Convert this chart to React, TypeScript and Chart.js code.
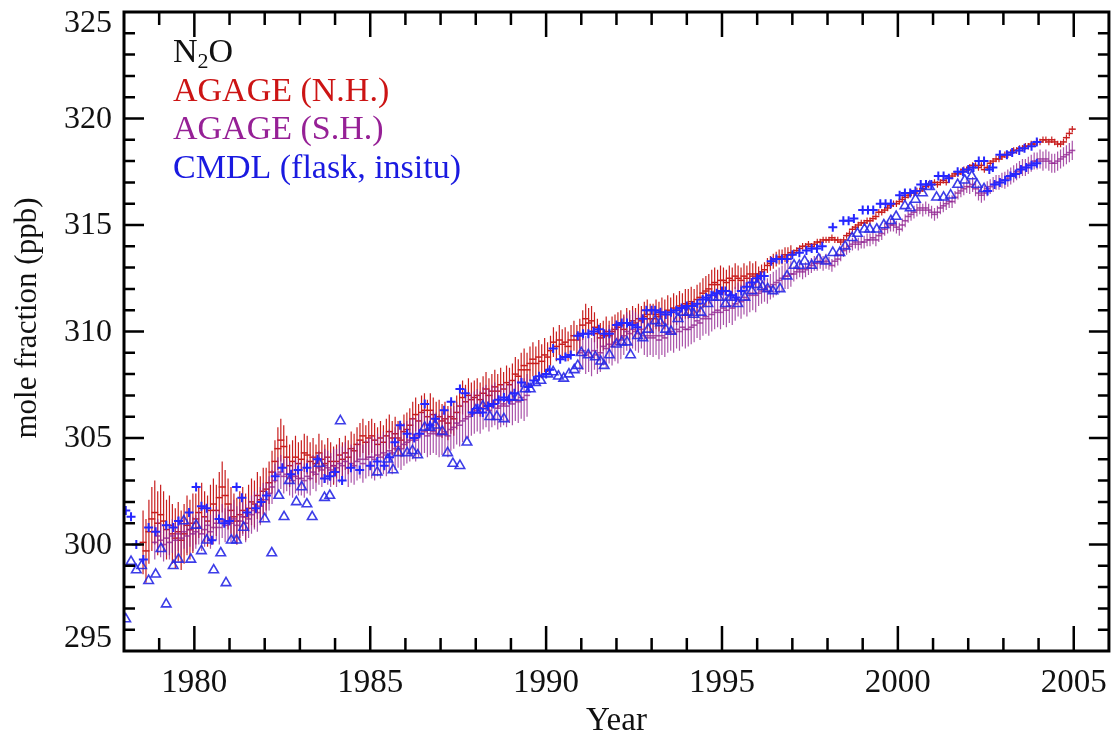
import React, { useEffect, useRef } from "react";
import { Chart, registerables } from "chart.js";
Chart.register(...registerables);

const FONT = '"Liberation Serif", "DejaVu Serif", serif';

const X_MIN = 1978;
const X_MAX = 2006;
const Y_MIN = 295;
const Y_MAX = 325;
const X_TICKS = [1980, 1985, 1990, 1995, 2000, 2005];
const Y_TICKS = [295, 300, 305, 310, 315, 320, 325];

// AGAGE N.H. monthly means, July 1978 .. Dec 2004
const NH_START = 1978 + 6 / 12;
const NH_VALUES = [
  300.1, 299.7, 300.6, 301.2, 301.5, 301.0,
  301.4, 301.1, 300.7, 300.9, 300.5, 300.3, 300.6, 300.2, 300.5, 300.9, 300.7, 301.0,
  301.2, 301.5, 301.7, 301.3, 301.1, 301.6, 301.9, 301.6, 302.2, 302.7, 302.3, 301.9,
  301.6, 301.3, 301.1, 301.4, 301.6, 301.3, 301.7, 302.0, 301.9, 302.3, 302.1, 302.5,
  302.6, 302.9, 303.4, 303.9, 304.5, 304.9, 304.6, 304.1, 303.7, 303.9, 304.1, 303.8,
  304.0, 304.3, 304.2, 303.9, 304.1, 303.8, 304.3, 304.0, 303.8, 304.1, 303.9, 303.7,
  303.9, 304.2, 304.0, 304.3, 304.1, 304.5, 304.4, 304.7, 304.9, 305.1, 304.8, 305.0,
  305.1, 304.9, 304.7, 305.0, 304.8, 305.1, 305.3, 305.0, 305.2, 305.0, 304.9, 305.3,
  305.4, 305.6, 305.9, 306.1, 305.8, 306.2, 306.3, 306.0, 306.3, 306.1, 305.9, 306.0,
  305.8, 305.9, 305.7, 306.0, 305.9, 306.2, 306.5, 306.9, 306.7, 307.0, 306.8, 306.9,
  307.0, 306.8, 307.1, 307.3, 307.0, 307.2, 307.4, 307.2, 307.5, 307.3, 307.6, 307.5,
  307.7, 308.0, 307.9, 308.2, 308.4, 308.2, 308.5, 308.7, 308.5, 308.8, 308.6, 308.9,
  308.8, 309.1, 309.5, 309.3, 309.6, 309.4, 309.5, 309.3, 309.6, 309.8, 309.6, 309.9,
  310.3, 310.6, 310.4, 310.5, 310.2, 309.9, 309.7, 309.8, 310.0, 309.8, 310.0, 310.1,
  310.2, 310.3, 310.1, 310.4, 310.3, 310.5, 310.4, 310.6, 310.5, 310.7, 310.8, 310.6,
  310.6, 310.8, 310.7, 310.9, 310.8, 311.0, 310.9, 311.1, 311.0, 311.2, 311.1, 311.3,
  311.3, 311.4, 311.3, 311.5, 311.6, 311.8, 311.9, 312.0, 312.2, 312.3, 312.2, 312.4,
  312.4, 312.3, 312.5, 312.4, 312.6, 312.5, 312.4, 312.6, 312.5, 312.7, 312.6, 312.7,
  312.7, 312.8, 312.9, 313.1, 313.2, 313.3, 313.4, 313.5, 313.5, 313.6, 313.6, 313.7,
  313.7, 313.8, 313.9, 314.0, 314.0, 314.1, 314.0, 314.1, 314.2, 314.2, 314.3, 314.3,
  314.3, 314.4, 314.3, 314.3, 314.2, 314.3, 314.5, 314.6, 314.8, 314.9, 315.0, 315.1,
  315.1, 315.2, 315.2, 315.3, 315.4, 315.6, 315.6, 315.7, 315.8, 315.9, 316.0, 316.0,
  316.1, 316.2, 316.3, 316.4, 316.5, 316.5, 316.6, 316.6, 316.7, 316.8, 316.9, 316.9,
  317.0, 316.9, 317.0, 317.1, 317.0, 317.2, 317.3, 317.4, 317.4, 317.5, 317.6, 317.6,
  317.7, 317.8, 317.8, 317.7, 317.8, 317.6, 317.7, 317.9, 318.0, 318.1, 318.1, 318.2,
  318.3, 318.3, 318.4, 318.5, 318.5, 318.6, 318.6, 318.7, 318.7, 318.8, 318.8, 318.9,
  318.9, 319.0, 319.0, 318.9, 319.0, 318.9, 318.8, 318.8, 318.9, 319.1, 319.3, 319.5,
];
// half-length of the N.H. error bars, by year 1978..2004
const NH_ERR = [
  1.5, 1.4, 1.2, 1.1, 1.0, 0.9, 0.8, 0.8, 0.8, 0.8, 0.8, 0.8, 0.7, 0.7,
  0.7, 0.7, 0.7, 0.6, 0.35, 0.15, 0.15, 0.15, 0.15, 0.15, 0.15, 0.15, 0.15,
];

// AGAGE S.H. monthly means, Nov 1978 .. Jun 1989
const SH1_START = 1978 + 10 / 12;
const SH1_VALUES = [
  300.1, 300.4,
  300.2, 300.0, 300.3, 300.1, 300.4, 300.2, 300.5, 300.3, 300.6, 300.4, 300.7, 300.5,
  300.6, 300.8, 300.5, 300.7, 300.9, 300.6, 300.8, 301.0, 300.8, 301.1, 300.9, 301.0,
  301.0, 301.2, 300.9, 301.1, 301.3, 301.0, 301.2, 301.4, 301.6, 301.5, 301.8, 302.0,
  302.1, 302.4, 302.7, 303.0, 303.3, 303.4, 303.2, 303.3, 303.1, 303.0, 303.2, 303.1,
  303.1, 303.0, 303.2, 303.1, 303.4, 303.3, 303.6, 303.5, 303.7, 303.6, 303.5, 303.7,
  303.6, 303.8, 303.7, 303.9, 303.6, 303.8, 303.7, 303.9, 304.0, 303.8, 304.0, 304.1,
  304.1, 304.0, 304.2, 304.1, 304.3, 304.2, 304.4, 304.3, 304.5, 304.6, 304.5, 304.7,
  304.8, 304.9, 305.0, 304.9, 305.1, 305.2, 305.3, 305.1, 305.2, 305.3, 305.2, 305.1,
  305.2, 305.3, 305.1, 305.4, 305.5, 305.7, 305.6, 305.8, 305.9, 306.0, 306.1, 306.2,
  306.3, 306.2, 306.4, 306.5, 306.3, 306.5, 306.6, 306.4, 306.5, 306.6, 306.5, 306.7,
  306.6, 306.8, 306.7, 306.9, 306.8, 307.0,
];
// AGAGE S.H. monthly means, Dec 1990 .. Dec 2004
const SH2_START = 1990 + 11 / 12;
const SH2_VALUES = [
  309.0,
  309.1, 308.9, 309.0, 308.8, 309.1, 308.9, 309.0, 309.3, 309.2, 309.4, 309.3, 309.5,
  309.4, 309.6, 309.8, 310.0, 309.9, 310.1, 310.0, 309.9, 310.1, 309.8, 309.7, 309.8,
  309.7, 309.8, 309.6, 309.8, 309.7, 309.9, 310.0, 309.9, 310.1, 310.0, 310.2, 310.1,
  310.1, 310.2, 310.3, 310.5, 310.4, 310.6, 310.7, 310.6, 310.8, 310.9, 311.0, 310.9,
  311.1, 311.0, 311.2, 311.1, 311.3, 311.5, 311.4, 311.6, 311.5, 311.7, 311.8, 311.7,
  311.8, 311.9, 312.0, 311.9, 312.1, 312.2, 312.3, 312.4, 312.5, 312.6, 312.6, 312.7,
  312.7, 312.8, 312.9, 312.8, 312.9, 313.0, 313.1, 313.2, 313.2, 313.3, 313.2, 313.3,
  313.2, 313.1, 313.3, 313.4, 313.6, 313.8, 313.9, 314.0, 314.1, 314.2, 314.1, 314.2,
  314.2, 314.3, 314.3, 314.4, 314.3, 314.5, 314.6, 314.8, 314.9, 315.0, 315.0, 314.9,
  314.8, 315.0, 315.2, 315.4, 315.5, 315.6, 315.7, 315.8, 315.7, 315.8, 315.7, 315.6,
  315.5, 315.6, 315.8, 315.9, 316.0, 316.1, 316.1, 316.3, 316.5, 316.6, 316.7, 316.8,
  316.8, 316.9, 316.7, 316.5, 316.4, 316.5, 316.7, 316.8, 316.9, 317.0, 317.0, 317.1,
  317.1, 317.2, 317.3, 317.4, 317.5, 317.6, 317.7, 317.7, 317.8, 317.9, 318.0, 318.0,
  318.1, 318.0, 318.1, 318.0, 317.9, 317.9, 318.0, 318.1, 318.2, 318.3, 318.4, 318.5,
];
// half-length of the S.H. error bars, by year 1978..2004
const SH_ERR = [
  0.8, 0.8, 0.8, 0.9, 0.8, 0.8, 0.9, 1.0, 1.0, 1.0, 1.0, 1.0, 0.9, 0.9,
  0.9, 0.9, 0.8, 0.8, 0.6, 0.35, 0.3, 0.3, 0.3, 0.3, 0.35, 0.4, 0.45,
];

// CMDL in situ ("+")
const INSITU_T = [
  1978.05, 1978.2, 1978.35, 1978.55, 1978.7, 1978.9, 1979.2, 1979.4, 1979.55, 1979.85,
  1980.05, 1980.2, 1980.35, 1980.5, 1980.7, 1980.85, 1981.0, 1981.2, 1981.35, 1981.5,
  1981.75, 1981.9, 1982.05, 1982.3, 1982.5, 1982.75, 1982.95, 1983.2, 1983.5, 1983.7,
  1983.85, 1984.0, 1984.2, 1984.45, 1984.7, 1985.0, 1985.2, 1985.4, 1985.55, 1985.7,
  1985.85, 1986.05, 1986.25, 1986.4, 1986.55, 1986.7, 1986.85, 1987.1, 1987.3, 1987.55,
  1987.7, 1987.9, 1988.05, 1988.2, 1988.35, 1988.5, 1988.65, 1988.8, 1988.95, 1989.1,
  1989.3, 1989.5, 1989.65, 1989.8, 1990.0, 1990.1, 1990.2, 1990.4, 1990.55, 1990.7,
  1990.9, 1991.05, 1991.2, 1991.35, 1991.5, 1991.65, 1991.8, 1992.0, 1992.15, 1992.3,
  1992.45, 1992.6, 1992.75, 1992.85, 1993.0, 1993.1, 1993.25, 1993.4, 1993.55, 1993.7,
  1993.85, 1994.0, 1994.15, 1994.3, 1994.45, 1994.55, 1994.7, 1994.85, 1995.0, 1995.1,
  1995.25, 1995.4, 1995.55, 1995.7, 1995.85, 1996.0, 1996.1, 1996.2, 1996.4, 1996.55,
  1996.7, 1996.85, 1997.0, 1997.2, 1997.4, 1997.55, 1997.7, 1997.85, 1998.15, 1998.45,
  1998.6, 1998.75, 1999.0, 1999.15, 1999.3, 1999.5, 1999.65, 1999.8, 2000.05, 2000.2,
  2000.35, 2000.5, 2000.65, 2000.8, 2000.95, 2001.15, 2001.3, 2001.45, 2001.7, 2001.85,
  2002.0, 2002.15, 2002.3, 2002.45, 2002.6, 2002.7, 2002.9, 2003.1, 2003.25, 2003.45,
  2003.6, 2003.8, 2003.95,
  2002.55, 2002.75, 2002.9, 2003.05, 2003.2, 2003.35, 2003.5, 2003.65, 2003.8, 2003.95,
];
const INSITU_V = [
  301.6, 301.3, 300.0, 299.3, 300.8, 300.6, 300.9, 300.8, 301.1, 301.5,
  302.7, 301.8, 301.7, 300.2, 301.2, 301.0, 301.1, 302.7, 302.2, 301.5,
  301.7, 302.0, 302.3, 303.2, 303.6, 303.3, 303.5, 303.6, 304.0, 303.1,
  303.2, 303.4, 303.0, 303.6, 303.5, 303.7, 303.9, 303.7, 304.1, 304.8,
  305.6, 305.2, 305.0, 305.2, 306.6, 305.6, 305.9, 306.3, 306.7, 307.3,
  307.1, 306.2, 306.4, 306.2, 306.5, 306.6, 306.8, 306.9, 306.8, 307.1,
  307.6, 307.4, 307.7, 307.9, 308.0, 308.2, 309.2, 308.7, 308.8, 308.9,
  309.8, 309.9, 309.9, 310.0, 310.1, 309.9, 309.9, 310.3, 310.4, 310.4,
  310.3, 310.2, 310.6, 311.0, 311.0, 311.0, 310.9, 310.8, 310.9, 311.0,
  311.1, 311.2, 311.2, 311.3, 311.5, 311.6, 311.7, 311.8, 311.9, 311.9,
  311.7, 311.6, 311.9, 312.1, 312.3, 312.5, 312.6, 312.6, 313.3, 313.4,
  313.4, 313.4, 313.6, 313.7, 313.8, 313.9, 313.9, 314.0, 314.9, 315.2,
  315.2, 315.3, 315.7, 315.7, 315.7, 316.0, 316.0, 316.0, 316.4, 316.5,
  316.5, 316.6, 316.9, 316.9, 316.9, 317.3, 317.3, 317.2, 317.5, 317.5,
  317.6, 317.7, 318.0, 318.0, 317.6, 317.7, 318.3, 318.3, 318.4, 318.5,
  318.6, 318.7, 318.9,
  316.6, 316.9, 317.0, 317.1, 317.3, 317.4, 317.6, 317.7, 317.8, 317.9,
];

// CMDL flask (triangles)
const FLASK_T = [
  1978.05, 1978.2, 1978.35, 1978.5, 1978.7, 1978.9, 1979.05, 1979.2, 1979.4, 1979.55,
  1979.7, 1979.9, 1980.05, 1980.2, 1980.35, 1980.55, 1980.75, 1980.9, 1981.05, 1981.2,
  1981.4, 1982.0, 1982.2, 1982.4, 1982.55, 1982.7, 1982.9, 1983.05, 1983.2, 1983.35,
  1983.55, 1983.7, 1983.85, 1984.15, 1985.2, 1985.5, 1985.65, 1985.8, 1986.05, 1986.2,
  1986.35, 1986.55, 1986.7, 1986.85, 1987.05, 1987.2, 1987.35, 1987.55, 1987.75, 1988.0,
  1988.2, 1988.4, 1988.6, 1988.8, 1989.0, 1989.2, 1989.4, 1989.55, 1989.7, 1989.85,
  1990.05, 1990.2, 1990.35, 1990.5, 1990.65, 1990.8, 1990.9, 1991.0, 1991.2, 1991.4,
  1991.55, 1991.65, 1991.8, 1992.0, 1992.15, 1992.3, 1992.4, 1992.6, 1992.75, 1992.9,
  1993.1, 1993.25, 1993.4, 1993.55, 1993.75, 1993.9, 1994.05, 1994.2, 1994.4, 1994.6,
  1994.75, 1994.9, 1995.1, 1995.25, 1995.45, 1995.65, 1995.85, 1996.0, 1996.15, 1996.3,
  1996.45, 1996.65, 1996.85, 1997.05, 1997.2, 1997.35, 1997.55, 1997.75, 1997.95, 1998.15,
  1998.35, 1998.5, 1998.7, 1998.85, 1999.05, 1999.2, 1999.4, 1999.6, 1999.8, 1999.95,
  2000.2, 2000.35, 2000.5, 2000.7, 2000.9, 2001.1, 2001.3, 2001.5, 2001.7, 2001.9,
  2002.1, 2002.25, 2002.45,
];
const FLASK_V = [
  296.5, 299.2, 298.8, 299.0, 298.3, 298.6, 299.8, 297.2, 299.0, 299.3,
  301.1, 299.3, 300.9, 299.7, 300.2, 298.8, 299.6, 298.2, 300.2, 300.2,
  300.8, 301.2, 299.6, 302.3, 301.3, 303.0, 302.0, 302.7, 301.9, 301.3,
  303.8, 302.2, 302.3, 305.8, 303.4, 304.0, 303.5, 304.3, 304.3, 304.4,
  304.2, 305.5, 305.5, 305.6, 305.3, 304.3, 303.8, 303.7, 304.8, 306.3,
  306.5, 306.0, 306.0, 305.9, 306.9, 306.9, 307.3, 307.3, 307.6, 307.7,
  308.0, 308.1, 307.9, 307.8, 308.0, 308.2, 308.4, 309.0, 308.9, 308.8,
  308.6, 308.4, 308.9, 309.4, 309.5, 309.5, 308.9, 309.8, 309.7, 310.1,
  310.5, 310.4, 310.1, 310.0, 310.6, 310.9, 310.9, 310.8, 310.9, 311.3,
  311.6, 311.6, 311.3, 311.6, 311.3, 311.6, 311.9, 312.2, 312.1, 312.0,
  311.9, 312.0, 312.6, 313.1, 313.1, 313.3, 313.1, 313.4, 313.3, 313.7,
  313.7, 314.0, 314.4, 314.6, 314.8, 314.8, 314.8, 315.0, 315.2, 315.4,
  315.9, 315.8, 316.2, 316.5, 316.8, 316.3, 316.3, 316.4, 316.9, 317.1,
  317.3, 316.9, 316.7,
];

const LEGEND_LINES = [
  { text: "AGAGE (N.H.)", color: "#cc1414" },
  { text: "AGAGE (S.H.)", color: "#962096" },
  { text: "CMDL (flask, insitu)", color: "#1a1ae0" },
];

const RED = "#c81e1e";
const PURPLE = "rgba(145, 35, 145, 0.78)";
const BLUE_PLUS = "#2626ff";
const BLUE_TRI = "rgba(40, 40, 230, 0.9)";

function monthly(start: number, values: number[]) {
  return values.map((v, i) => ({ x: start + (i + 0.5) / 12, y: v }));
}
function errorsFor(points: { x: number }[], byYear: number[]) {
  return points.map((p) => byYear[Math.min(byYear.length - 1, Math.floor(p.x) - 1978)]);
}
function pairs(t: number[], v: number[]) {
  return t.map((x, i) => ({ x, y: v[i] }));
}

const framePlugin = {
  id: "framePlugin",
  afterDatasetDraw(chart: any, args: any) {
    const ds = chart.data.datasets[args.index];
    if (!ds.errors) return;
    const { ctx, chartArea } = chart;
    const xs = chart.scales.x;
    const ys = chart.scales.y;
    ctx.save();
    ctx.beginPath();
    ctx.rect(chartArea.left, chartArea.top, chartArea.right - chartArea.left, chartArea.bottom - chartArea.top);
    ctx.clip();
    ctx.strokeStyle = ds.borderColor;
    ctx.lineWidth = ds.errorWidth || 1.2;
    ctx.beginPath();
    ds.data.forEach((p: any, i: number) => {
      const e = ds.errors[i];
      const px = xs.getPixelForValue(p.x);
      ctx.moveTo(px, ys.getPixelForValue(p.y - e));
      ctx.lineTo(px, ys.getPixelForValue(p.y + e));
    });
    ctx.stroke();
    ctx.restore();
  },
  afterDraw(chart: any) {
    const { ctx, chartArea } = chart;
    const { left, right, top, bottom } = chartArea;
    const xs = chart.scales.x;
    const ys = chart.scales.y;
    ctx.save();
    ctx.strokeStyle = "#000";
    ctx.fillStyle = "#000";
    // inward ticks
    ctx.lineWidth = 2.5;
    ctx.beginPath();
    for (let yr = Math.ceil(X_MIN) + 1; yr < X_MAX; yr++) {
      const major = X_TICKS.includes(yr);
      const len = major ? 25 : 13;
      const px = xs.getPixelForValue(yr);
      ctx.moveTo(px, bottom);
      ctx.lineTo(px, bottom - len);
      ctx.moveTo(px, top);
      ctx.lineTo(px, top + len);
    }
    for (let v = Y_MIN + 1; v < Y_MAX; v++) {
      const major = Y_TICKS.includes(v);
      const len = major ? 20 : 11;
      const py = ys.getPixelForValue(v);
      ctx.moveTo(left, py);
      ctx.lineTo(left + len, py);
      ctx.moveTo(right, py);
      ctx.lineTo(right - len, py);
    }
    ctx.stroke();
    // frame
    ctx.lineWidth = 3;
    ctx.strokeRect(left, top, right - left, bottom - top);
    // y tick labels
    ctx.fillStyle = "#111";
    ctx.font = `32px ${FONT}`;
    ctx.textAlign = "right";
    ctx.textBaseline = "middle";
    Y_TICKS.forEach((v) => {
      let py = ys.getPixelForValue(v);
      py = Math.max(top + 11, Math.min(bottom - 13, py));
      ctx.fillText(String(v), left - 12, py + 1);
    });
    // y title
    ctx.save();
    ctx.translate(36, 318);
    ctx.rotate(-Math.PI / 2);
    ctx.textAlign = "center";
    ctx.textBaseline = "alphabetic";
    ctx.font = `31px ${FONT}`;
    ctx.fillText("mole fraction (ppb)", 0, 0);
    ctx.restore();
    // legend text
    ctx.textAlign = "left";
    ctx.textBaseline = "alphabetic";
    const lx = left + 49;
    let ly = top + 50;
    ctx.font = `34px ${FONT}`;
    ctx.fillStyle = "#111";
    ctx.fillText("N", lx, ly);
    let w = ctx.measureText("N").width;
    ctx.font = `22px ${FONT}`;
    ctx.fillText("2", lx + w, ly + 6);
    w += ctx.measureText("2").width;
    ctx.font = `34px ${FONT}`;
    ctx.fillText("O", lx + w, ly);
    LEGEND_LINES.forEach((l) => {
      ly += 38.5;
      ctx.fillStyle = l.color;
      ctx.fillText(l.text, lx, ly);
    });
    ctx.restore();
  },
};

export default function App() {
  const ref = useRef<HTMLCanvasElement | null>(null);
  useEffect(() => {
    if (!ref.current) return;
    const nh = monthly(NH_START, NH_VALUES);
    const sh1 = monthly(SH1_START, SH1_VALUES);
    const sh2 = monthly(SH2_START, SH2_VALUES);
    const sh = sh1.concat(sh2);
    const chart = new Chart(ref.current, {
      type: "scatter",
      data: {
        datasets: [
          {
            label: "AGAGE (N.H.)",
            data: nh,
            errors: errorsFor(nh, NH_ERR),
            errorWidth: 1.2,
            borderColor: RED,
            backgroundColor: RED,
            pointStyle: "line",
            pointRadius: 3.5,
            borderWidth: 1.5,
            order: 4,
          } as any,
          {
            label: "AGAGE (S.H.)",
            data: sh,
            errors: errorsFor(sh, SH_ERR),
            errorWidth: 1.2,
            borderColor: PURPLE,
            backgroundColor: PURPLE,
            pointStyle: "line",
            pointRadius: 3,
            borderWidth: 1.6,
            order: 3,
          } as any,
          {
            label: "CMDL flask",
            data: pairs(FLASK_T, FLASK_V),
            borderColor: BLUE_TRI,
            backgroundColor: "rgba(0,0,0,0)",
            pointStyle: "triangle",
            pointRadius: 5.5,
            borderWidth: 1.6,
            order: 2,
          },
          {
            label: "CMDL insitu",
            data: pairs(INSITU_T, INSITU_V),
            borderColor: BLUE_PLUS,
            backgroundColor: BLUE_PLUS,
            pointStyle: "cross",
            pointRadius: 4.5,
            borderWidth: 2,
            order: 1,
          },
        ],
      },
      options: {
        responsive: false,
        maintainAspectRatio: false,
        devicePixelRatio: 1,
        animation: false,
        events: [],
        layout: { padding: { left: 0, right: 4, top: 12, bottom: 0 } },
        plugins: { legend: { display: false }, tooltip: { enabled: false } },
        scales: {
          x: {
            type: "linear",
            position: "bottom",
            min: X_MIN,
            max: X_MAX,
            afterBuildTicks: (s: any) => {
              s.ticks = X_TICKS.map((v) => ({ value: v }));
            },
            afterFit: (s: any) => {
              s.height = 87;
            },
            grid: { display: false, drawTicks: false },
            border: { display: false },
            ticks: {
              autoSkip: false,
              maxRotation: 0,
              padding: 13,
              color: "#111",
              font: { family: FONT, size: 33 },
              callback: (v: any) => String(v),
            },
            title: {
              display: true,
              text: "Year",
              color: "#111",
              font: { family: FONT, size: 33, lineHeight: 1 },
              padding: { top: 0, bottom: 0 },
            },
          },
          y: {
            type: "linear",
            min: Y_MIN,
            max: Y_MAX,
            afterBuildTicks: (s: any) => {
              s.ticks = Y_TICKS.map((v) => ({ value: v }));
            },
            afterFit: (s: any) => {
              s.width = 124;
            },
            grid: { display: false, drawTicks: false },
            border: { display: false },
            ticks: { display: false },
          },
        },
      } as any,
      plugins: [framePlugin],
    });
    return () => chart.destroy();
  }, []);
  return (
    <div style={{ position: "absolute", left: 0, top: 0, width: 1120, height: 738, background: "#fff" }}>
      <canvas ref={ref} width={1120} height={738} style={{ display: "block" }} />
    </div>
  );
}
